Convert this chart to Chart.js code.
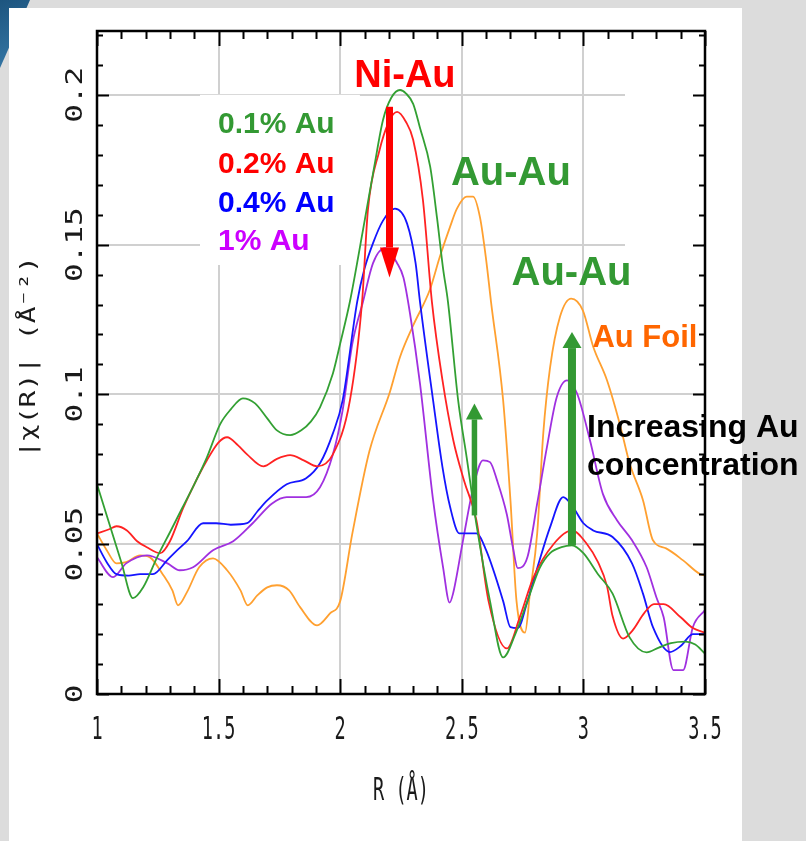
<!DOCTYPE html>
<html>
<head>
<meta charset="utf-8">
<script src="https://cdn.jsdelivr.net/npm/chart.js@4.4.0/dist/chart.umd.min.js"></script>
<style>
  html, body { margin: 0; padding: 0; }
  body { width: 806px; height: 841px; background: #dcdcdc; position: relative; overflow: hidden; }
  #corner { position: absolute; left: 0; top: 0; width: 40px; height: 75px;
            background: linear-gradient(160deg, #1d557f, #3a7eae);
            clip-path: polygon(0 0, 30px 0, 0 68px); }
  #panel { position: absolute; left: 9px; top: 8px; width: 733px; height: 833px; background: #fff; }
  #wrap { position: absolute; left: 0; top: 0; width: 806px; height: 841px; }
</style>
</head>
<body>
<div id="corner"></div>
<div id="panel"></div>
<div id="wrap"><canvas id="exafs"></canvas></div>
<script>
// axis ranges and tick labels
const R_MIN = 1, R_MAX = 3.5;
const CHI_MIN = 0, CHI_MAX = 0.2213;
const xMajor = [1, 1.5, 2, 2.5, 3, 3.5];
const xTickLabels = ['1', '1.5', '2', '2.5', '3', '3.5'];
const yMajor = [0, 0.05, 0.1, 0.15, 0.2];
const yTickLabels = ['0', '0.05', '0.1', '0.15', '0.2'];
const xTitle = 'R (Å)';
const yTitle = '|χ(R)| (Å⁻²)';

// 0.1% Au (green)
const au01_R   = [1.0,1.05,1.1,1.148,1.19,1.247,1.3,1.35,1.4,1.452,1.506,1.55,1.6,1.65,1.7,1.74,1.794,1.84,1.88,1.917,1.97,2.0,2.04,2.094,2.14,2.176,2.21,2.246,2.27,2.3,2.328,2.37,2.398,2.423,2.443,2.485,2.52,2.562,2.616,2.67,2.72,2.77,2.82,2.863,2.91,2.953,3.0,3.06,3.12,3.19,3.26,3.31,3.36,3.42,3.46,3.5];
const au01_chi = [0.070,0.057,0.044,0.032,0.0356,0.0456,0.054,0.062,0.070,0.079,0.090,0.095,0.0987,0.097,0.092,0.088,0.0864,0.088,0.091,0.0957,0.107,0.117,0.131,0.155,0.176,0.1916,0.199,0.2016,0.2005,0.197,0.189,0.176,0.159,0.142,0.131,0.098,0.079,0.0557,0.031,0.0122,0.020,0.031,0.042,0.047,0.049,0.0496,0.047,0.040,0.0335,0.0189,0.0139,0.0155,0.017,0.0175,0.0165,0.0135];

// 0.2% Au (red)
const au02_R   = [1.0,1.05,1.08,1.123,1.165,1.205,1.26,1.3,1.354,1.4,1.452,1.5,1.535,1.58,1.617,1.684,1.74,1.794,1.85,1.905,1.97,2.04,2.09,2.114,2.16,2.2,2.234,2.27,2.3,2.34,2.377,2.42,2.465,2.51,2.56,2.61,2.685,2.74,2.795,2.877,2.953,3.015,3.06,3.097,3.12,3.163,3.2,3.25,3.29,3.33,3.4,3.45,3.5];
const au02_chi = [0.0536,0.055,0.056,0.0546,0.051,0.049,0.047,0.051,0.062,0.070,0.078,0.084,0.0857,0.083,0.080,0.076,0.0785,0.0797,0.078,0.076,0.080,0.098,0.131,0.1616,0.181,0.191,0.1943,0.191,0.185,0.165,0.131,0.105,0.0847,0.071,0.058,0.031,0.0152,0.026,0.039,0.050,0.0546,0.050,0.044,0.036,0.026,0.0185,0.021,0.027,0.030,0.030,0.0256,0.022,0.0205];

// 0.4% Au (blue)
const au04_R   = [1.0,1.04,1.08,1.13,1.177,1.23,1.288,1.33,1.37,1.436,1.49,1.55,1.617,1.66,1.7,1.78,1.86,1.917,1.97,2.01,2.07,2.1,2.135,2.176,2.225,2.275,2.31,2.328,2.382,2.42,2.452,2.49,2.56,2.6,2.67,2.7,2.73,2.77,2.81,2.863,2.917,2.957,3.0,3.04,3.12,3.2,3.245,3.286,3.356,3.4,3.45,3.5];
const au04_chi = [0.050,0.044,0.040,0.0395,0.040,0.040,0.0446,0.048,0.051,0.057,0.057,0.0565,0.057,0.061,0.0646,0.070,0.072,0.077,0.087,0.098,0.131,0.142,0.1505,0.158,0.162,0.157,0.1438,0.131,0.098,0.076,0.0624,0.0536,0.0536,0.048,0.031,0.0223,0.022,0.031,0.042,0.0557,0.0657,0.0624,0.057,0.0546,0.0524,0.0436,0.0335,0.0223,0.014,0.016,0.020,0.020];

// 1% Au (purple)
const au1_R   = [1.0,1.066,1.12,1.205,1.29,1.34,1.395,1.477,1.56,1.64,1.72,1.78,1.86,1.917,1.97,2.01,2.05,2.094,2.135,2.184,2.234,2.26,2.287,2.328,2.382,2.423,2.45,2.464,2.505,2.55,2.587,2.616,2.645,2.685,2.71,2.73,2.77,2.81,2.85,2.89,2.933,2.974,3.027,3.08,3.138,3.2,3.26,3.3,3.33,3.37,3.41,3.45,3.5];
const au1_chi = [0.0456,0.039,0.0436,0.0463,0.0436,0.0413,0.0423,0.048,0.051,0.057,0.0636,0.0657,0.0657,0.069,0.080,0.0947,0.117,0.131,0.1438,0.1488,0.1438,0.139,0.127,0.1037,0.0647,0.0423,0.0305,0.0335,0.0513,0.070,0.078,0.0774,0.0713,0.060,0.049,0.042,0.0457,0.0636,0.0824,0.099,0.1047,0.1003,0.0847,0.0668,0.058,0.0513,0.0423,0.0323,0.0256,0.008,0.008,0.0223,0.028];

// Au foil (orange)
const foil_R   = [1.0,1.04,1.08,1.12,1.177,1.218,1.27,1.31,1.333,1.37,1.42,1.477,1.535,1.59,1.62,1.66,1.7,1.74,1.79,1.835,1.905,1.958,2.0,2.05,2.12,2.205,2.246,2.3,2.369,2.41,2.452,2.48,2.52,2.546,2.575,2.6,2.62,2.67,2.7,2.725,2.76,2.78,2.81,2.835,2.863,2.904,2.95,2.998,3.04,3.097,3.15,3.19,3.245,3.286,3.34,3.41,3.48,3.5];
const foil_chi = [0.0536,0.048,0.0436,0.044,0.0463,0.0456,0.040,0.0346,0.0296,0.034,0.0423,0.0453,0.0413,0.0346,0.0296,0.033,0.0356,0.0363,0.0346,0.029,0.0229,0.0269,0.031,0.0536,0.081,0.101,0.1125,0.123,0.135,0.146,0.156,0.162,0.166,0.166,0.159,0.145,0.131,0.098,0.0647,0.031,0.0205,0.0335,0.0536,0.087,0.109,0.126,0.132,0.128,0.116,0.1047,0.090,0.077,0.0647,0.0513,0.0486,0.0446,0.040,0.0396];

// annotations (placed in data coordinates)
const labels = [
  { text: 'Ni-Au',   r: 2.266, chi: 0.2027, color: '#ff0000', size: 38, align: 'center' },
  { text: '0.1% Au', r: 1.4975, chi: 0.1873, color: '#339933', size: 30, align: 'left' },
  { text: '0.2% Au', r: 1.4975, chi: 0.1739, color: '#ff0000', size: 30, align: 'left' },
  { text: '0.4% Au', r: 1.4975, chi: 0.1609, color: '#0000ff', size: 30, align: 'left' },
  { text: '1% Au',   r: 1.4975, chi: 0.1482, color: '#cc00ff', size: 30, align: 'left' },
  { text: 'Au-Au',   r: 2.702, chi: 0.1699, color: '#339933', size: 40, align: 'center' },
  { text: 'Au-Au',   r: 2.951, chi: 0.1365, color: '#339933', size: 40, align: 'center' },
  { text: 'Au Foil', r: 3.253, chi: 0.1158, color: '#ff6600', size: 31, align: 'center' },
  { text: 'Increasing Au', r: 3.015, chi: 0.0857, color: '#000000', size: 32, align: 'left' },
  { text: 'concentration', r: 3.015, chi: 0.0730, color: '#000000', size: 32, align: 'left' }
];
const arrows = [
  { r: 2.2027, from: 0.196, to: 0.139, color: '#ff0000', shaft: 7, head: 19, headLen: 30 },
  { r: 2.552, from: 0.0596, to: 0.097, color: '#339933', shaft: 5.5, head: 17, headLen: 16 },
  { r: 2.953, from: 0.0496, to: 0.1208, color: '#339933', shaft: 8, head: 19, headLen: 16 }
];
const whiteBoxes = [
  { r0: 1.4235, r1: 2.081, c0: 0.1432, c1: 0.2 },
  { r0: 3.171, r1: 3.4918, c0: 0.1315, c1: 0.2167 }
];

const toPoints = (r, c) => r.map((x, i) => ({ x: x, y: c[i] }));
function series(label, r, c, color) {
  return { label, data: toPoints(r, c), borderColor: color, borderWidth: 1.8,
           pointRadius: 0, fill: false, cubicInterpolationMode: 'monotone' };
}

const coverPlugin = {
  id: 'cover',
  beforeDatasetsDraw(chart) {
    const { ctx, scales: { x, y } } = chart;
    ctx.save();
    ctx.fillStyle = '#ffffff';
    whiteBoxes.forEach(b => {
      const px0 = x.getPixelForValue(b.r0), px1 = x.getPixelForValue(b.r1);
      const py0 = y.getPixelForValue(b.c1), py1 = y.getPixelForValue(b.c0);
      ctx.fillRect(px0, py0, px1 - px0, py1 - py0);
    });
    ctx.restore();
  }
};

function stretchedText(ctx, text, px, py, rot, sx, font, align) {
  ctx.save();
  ctx.translate(px, py);
  ctx.rotate(rot);
  ctx.scale(sx, 1);
  ctx.font = font;
  ctx.textAlign = align;
  ctx.textBaseline = 'alphabetic';
  ctx.fillText(text, 0, 0);
  ctx.restore();
}

const axesPlugin = {
  id: 'axes',
  afterDatasetsDraw(chart) {
    const { ctx, chartArea: a, scales: { x, y } } = chart;
    ctx.save();
    ctx.strokeStyle = '#000';
    ctx.lineWidth = 2;
    // minor + major ticks, pointing inward on all four sides
    for (let i = 0; i <= 25; i++) {
      const v = R_MIN + i * 0.1;
      const px = Math.round(x.getPixelForValue(v)) + 0.5;
      const len = (i % 5 === 0) ? 15 : 8;
      ctx.beginPath();
      ctx.moveTo(px, a.bottom); ctx.lineTo(px, a.bottom - len);
      ctx.moveTo(px, a.top); ctx.lineTo(px, a.top + len);
      ctx.stroke();
    }
    for (let i = 0; i <= 22; i++) {
      const v = i * 0.01;
      const py = Math.round(y.getPixelForValue(v)) + 0.5;
      const len = (i % 5 === 0) ? 12 : 6;
      ctx.beginPath();
      ctx.moveTo(a.left, py); ctx.lineTo(a.left + len, py);
      ctx.moveTo(a.right, py); ctx.lineTo(a.right - len, py);
      ctx.stroke();
    }
    ctx.lineWidth = 2.5;
    ctx.strokeRect(a.left, a.top, a.right - a.left, a.bottom - a.top);

    // tick labels and titles (thin, anisotropically scaled like the scanned figure)
    ctx.fillStyle = '#1a1a1a';
    xMajor.forEach((v, i) => {
      stretchedText(ctx, xTickLabels[i], x.getPixelForValue(v), a.bottom + 45, 0, 0.58,
                    '32px "DejaVu Sans Mono"', 'center');
    });
    yMajor.forEach((v, i) => {
      stretchedText(ctx, yTickLabels[i], a.left - 15, y.getPixelForValue(v), -Math.PI / 2, 1.35,
                    '23px "DejaVu Sans Mono"', 'center');
    });
    stretchedText(ctx, xTitle, (a.left + a.right) / 2, a.bottom + 106, 0, 0.58,
                  '32px "DejaVu Sans Mono"', 'center');
    stretchedText(ctx, yTitle, 35, y.getPixelForValue(0.1125), -Math.PI / 2, 1.33,
                  '21px "DejaVu Sans Mono"', 'center');
    ctx.restore();
  }
};

const notePlugin = {
  id: 'notes',
  afterDraw(chart) {
    const { ctx, scales: { x, y } } = chart;
    ctx.save();
    arrows.forEach(ar => {
      const px = x.getPixelForValue(ar.r);
      const p0 = y.getPixelForValue(ar.from), p1 = y.getPixelForValue(ar.to);
      const dir = p1 > p0 ? 1 : -1;
      const base = p1 - dir * ar.headLen;
      ctx.fillStyle = ar.color;
      ctx.fillRect(px - ar.shaft / 2, Math.min(p0, base), ar.shaft, Math.abs(base - p0));
      ctx.beginPath();
      ctx.moveTo(px - ar.head / 2, base);
      ctx.lineTo(px + ar.head / 2, base);
      ctx.lineTo(px, p1);
      ctx.closePath();
      ctx.fill();
    });
    labels.forEach(l => {
      ctx.font = 'bold ' + l.size + 'px "Liberation Sans", Arial, sans-serif';
      ctx.fillStyle = l.color;
      ctx.textAlign = l.align;
      ctx.textBaseline = 'alphabetic';
      ctx.fillText(l.text, x.getPixelForValue(l.r), y.getPixelForValue(l.chi));
    });
    ctx.restore();
  }
};

const gridColor = (lo, hi) => c => (c.tick && c.tick.value > lo + 1e-6 && c.tick.value < hi - 0.01)
  ? '#d0d0d0' : 'rgba(0,0,0,0)';

new Chart(document.getElementById('exafs'), {
  type: 'line',
  data: {
    datasets: [
      series('0.1% Au', au01_R, au01_chi, '#33a033'),
      series('0.2% Au', au02_R, au02_chi, '#ff2222'),
      series('0.4% Au', au04_R, au04_chi, '#1515ff'),
      series('1% Au', au1_R, au1_chi, '#a030e0'),
      series('Au Foil', foil_R, foil_chi, '#ffa030')
    ]
  },
  options: {
    responsive: true,
    maintainAspectRatio: false,
    animation: false,
    layout: { padding: { left: 97, right: 101, top: 31, bottom: 147 } },
    plugins: { legend: { display: false }, tooltip: { enabled: false } },
    scales: {
      x: { type: 'linear', min: R_MIN, max: R_MAX,
           ticks: { display: false, stepSize: 0.5 },
           grid: { color: gridColor(R_MIN, R_MAX), lineWidth: 2, drawTicks: false },
           border: { display: false } },
      y: { type: 'linear', min: CHI_MIN, max: CHI_MAX,
           ticks: { display: false, stepSize: 0.05 },
           grid: { color: gridColor(CHI_MIN, CHI_MAX), lineWidth: 2, drawTicks: false },
           border: { display: false } }
    }
  },
  plugins: [coverPlugin, axesPlugin, notePlugin]
});
</script>
</body>
</html>
